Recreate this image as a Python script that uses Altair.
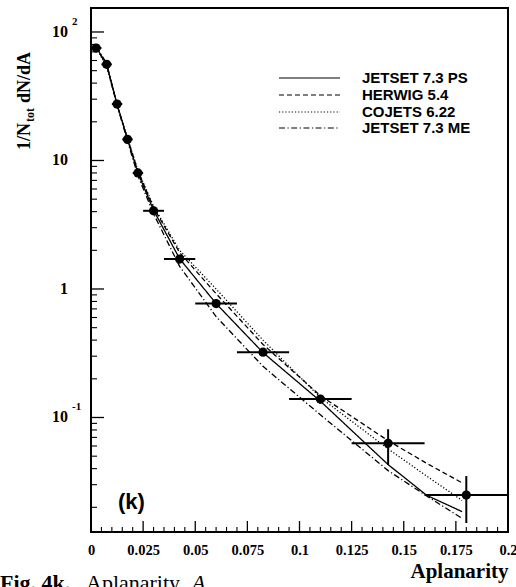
import altair as alt
import pandas as pd

# ---------------- data ----------------
x_center = [0.0025, 0.0075, 0.0125, 0.0175, 0.0225, 0.03, 0.0425, 0.06, 0.0825, 0.11, 0.1425, 0.18]
x_lo = [0.0, 0.005, 0.01, 0.015, 0.02, 0.025, 0.035, 0.05, 0.07, 0.095, 0.125, 0.16]
x_hi = [0.005, 0.01, 0.015, 0.02, 0.025, 0.035, 0.05, 0.07, 0.095, 0.125, 0.16, 0.2]
y_val = [75, 56, 27.5, 14.6, 8.0, 4.06, 1.71, 0.77, 0.322, 0.139, 0.063, 0.0249]
y_lo = [73, 54.5, 26.5, 14.0, 7.6, 3.85, 1.62, 0.73, 0.305, 0.128, 0.0427, 0.0151]
y_hi = [77, 57.5, 28.5, 15.2, 8.4, 4.27, 1.80, 0.81, 0.34, 0.150, 0.081, 0.035]

curve_x = [0.0025, 0.0075, 0.0125, 0.0175, 0.0225, 0.03, 0.0425, 0.06, 0.0825, 0.11, 0.1425, 0.161, 0.178]
jetset_ps = [76, 56, 27.5, 14.6, 8.0, 4.1, 1.72, 0.77, 0.32, 0.134, 0.043, 0.0248, 0.0185]
herwig = [76, 55, 27, 14.8, 8.3, 4.3, 1.92, 0.92, 0.37, 0.148, 0.066, 0.044, 0.031]
cojets = [75, 54, 27, 15.0, 8.4, 4.4, 2.0, 1.0, 0.40, 0.143, 0.057, 0.035, 0.0226]
jetset_me = [77, 57, 27, 14.2, 7.6, 3.85, 1.5, 0.61, 0.25, 0.105, 0.0386, 0.0245, 0.0164]

model_names = ["JETSET 7.3 PS", "HERWIG 5.4", "COJETS 6.22", "JETSET 7.3 ME"]
model_dash = [[1, 0], [5, 3], [1.2, 2], [6, 2.5, 1.2, 2.5]]

x_major = [0, 0.025, 0.05, 0.075, 0.1, 0.125, 0.15, 0.175, 0.2]
x_minor = [0.005, 0.01, 0.015, 0.02, 0.03, 0.035, 0.04, 0.045, 0.055, 0.06, 0.065, 0.07,
           0.08, 0.085, 0.09, 0.095, 0.105, 0.11, 0.115, 0.12, 0.13, 0.135, 0.14, 0.145,
           0.155, 0.16, 0.165, 0.17, 0.18, 0.185, 0.19, 0.195]
y_major = [0.1, 1, 10, 100]
y_minor = [0.02, 0.03, 0.04, 0.05, 0.06, 0.07, 0.08, 0.09,
           0.2, 0.3, 0.4, 0.5, 0.6, 0.7, 0.8, 0.9,
           2, 3, 4, 5, 6, 7, 8, 9,
           20, 30, 40, 50, 60, 70, 80, 90]
y_label_main = ["10", "1", "10", "10"]
y_label_sup = ["-1", "", "", "2"]

W, H = 417, 524
SERIF = "Liberation Serif"
SANS = "Liberation Sans"

xs = alt.Scale(domain=[0, 0.2], nice=False, zero=False)
ys = alt.Scale(type="log", domain=[0.01285, 153.7], nice=False)

x_axis = alt.Axis(values=x_major, labelExpr="format(datum.value, '.3~f')", ticks=False,
                  domain=False, grid=False,
                  labelFont=SERIF, labelFontWeight="bold", labelFontSize=14.5,
                  labelColor="black", labelPadding=11, labelOverlap=False, labelFlush=False,
                  title="Aplanarity", titleFont=SERIF, titleFontWeight="bold",
                  titleFontSize=21, titleColor="black", titleX=W, titleY=45,
                  titleAlign="right", titleBaseline="alphabetic")


def X(f):
    return alt.X(f, type="quantitative", scale=xs, axis=x_axis)


def Y(f):
    return alt.Y(f, type="quantitative", scale=ys, axis=None)


pts = pd.DataFrame({"x": x_center, "xlo": x_lo, "xhi": x_hi, "y": y_val, "ylo": y_lo, "yhi": y_hi})

layers = []

# model curves
for name, vals, dash in zip(model_names, [jetset_ps, herwig, cojets, jetset_me], model_dash):
    df = pd.DataFrame({"x": curve_x, "y": vals})
    layers.append(alt.Chart(df).mark_line(color="black", strokeWidth=1.3, strokeDash=dash)
                  .encode(x=X("x"), y=Y("y")))

# error bars
layers.append(alt.Chart(pts).mark_rule(color="black", strokeWidth=2)
              .encode(x=X("xlo"), x2="xhi", y=Y("y")))
layers.append(alt.Chart(pts).mark_rule(color="black", strokeWidth=2)
              .encode(x=X("x"), y=Y("ylo"), y2="yhi"))
layers.append(alt.Chart(pts).mark_circle(color="black", opacity=1, size=85)
              .encode(x=X("x"), y=Y("y")))

# ticks (inward)
layers.append(alt.Chart(pd.DataFrame({"v": x_major})).mark_rule(color="black", strokeWidth=1.3)
              .encode(x=X("v"), y=alt.value(H), y2=alt.value(H - 11)))
layers.append(alt.Chart(pd.DataFrame({"v": x_minor})).mark_rule(color="black", strokeWidth=1.1)
              .encode(x=X("v"), y=alt.value(H), y2=alt.value(H - 5)))
layers.append(alt.Chart(pd.DataFrame({"v": y_major})).mark_rule(color="black", strokeWidth=1.3)
              .encode(y=Y("v"), x=alt.value(0), x2=alt.value(13)))
layers.append(alt.Chart(pd.DataFrame({"v": y_minor})).mark_rule(color="black", strokeWidth=1.1)
              .encode(y=Y("v"), x=alt.value(0), x2=alt.value(6)))

# y tick labels
ylab = pd.DataFrame({"v": y_major, "t": y_label_main, "s": y_label_sup})
layers.append(alt.Chart(ylab).mark_text(align="right", baseline="middle", font=SERIF,
                                        fontWeight="bold", fontSize=16, color="black")
              .encode(y=Y("v"), x=alt.value(-23), text="t:N"))
layers.append(alt.Chart(ylab).mark_text(align="left", baseline="middle", font=SERIF,
                                        fontWeight="bold", fontSize=11, color="black", dy=-10)
              .encode(y=Y("v"), x=alt.value(-19), text="s:N"))

# y title (rotated, with subscript)
tb = 150 - 8
layers.append(alt.Chart().mark_text(text="1/N", angle=270, align="left", baseline="alphabetic",
                                    font=SERIF, fontWeight="bold", fontSize=18, color="black")
              .encode(x=alt.value(30 - 91), y=alt.value(tb)))
layers.append(alt.Chart().mark_text(text="tot", angle=270, align="left", baseline="alphabetic",
                                    font=SERIF, fontWeight="bold", fontSize=12, color="black")
              .encode(x=alt.value(34 - 91), y=alt.value(tb - 28)))
layers.append(alt.Chart().mark_text(text="dN/dA", angle=270, align="left", baseline="alphabetic",
                                    font=SERIF, fontWeight="bold", fontSize=18, color="black")
              .encode(x=alt.value(30 - 91), y=alt.value(tb - 47)))

# legend
leg_y = [78, 95, 112, 128]
for name, dash, ly in zip(model_names, model_dash, leg_y):
    layers.append(alt.Chart().mark_rule(color="black", strokeWidth=1.2, strokeDash=dash)
                  .encode(x=alt.value(279 - 91), x2=alt.value(340 - 91), y=alt.value(ly - 8)))
    layers.append(alt.Chart().mark_text(text=name, align="left", baseline="middle", font=SANS,
                                        fontWeight="bold", fontSize=15, color="black")
                  .encode(x=alt.value(362 - 91), y=alt.value(ly - 8)))

# panel tag
layers.append(alt.Chart().mark_text(text="(k)", align="left", baseline="middle", font=SANS,
                                    fontWeight="bold", fontSize=22, color="black")
              .encode(x=alt.value(118 - 91), y=alt.value(502 - 8)))

# caption (cut at bottom edge as in the reference)
cap_y = 590 - 8
layers.append(alt.Chart().mark_text(text="Fig. 4k.", align="left", baseline="alphabetic", font=SERIF,
                                    fontWeight="bold", fontSize=22, color="black")
              .encode(x=alt.value(0 - 91), y=alt.value(cap_y)))
layers.append(alt.Chart().mark_text(text="Aplanarity", align="left", baseline="alphabetic", font=SERIF,
                                    fontSize=22, color="black")
              .encode(x=alt.value(86 - 91), y=alt.value(cap_y)))
layers.append(alt.Chart().mark_text(text="A", align="left", baseline="alphabetic", font=SERIF,
                                    fontStyle="italic", fontSize=22, color="black")
              .encode(x=alt.value(192 - 91), y=alt.value(cap_y)))

chart = alt.layer(*layers).properties(
    width=W, height=H,
    autosize=alt.AutoSizeParams(type="none"),
    padding={"left": 91, "top": 8, "right": 8, "bottom": 55},
    background="white",
).configure_view(stroke="black", strokeWidth=2)

chart.save("out.html", embed_options={"renderer": "svg", "actions": False})
